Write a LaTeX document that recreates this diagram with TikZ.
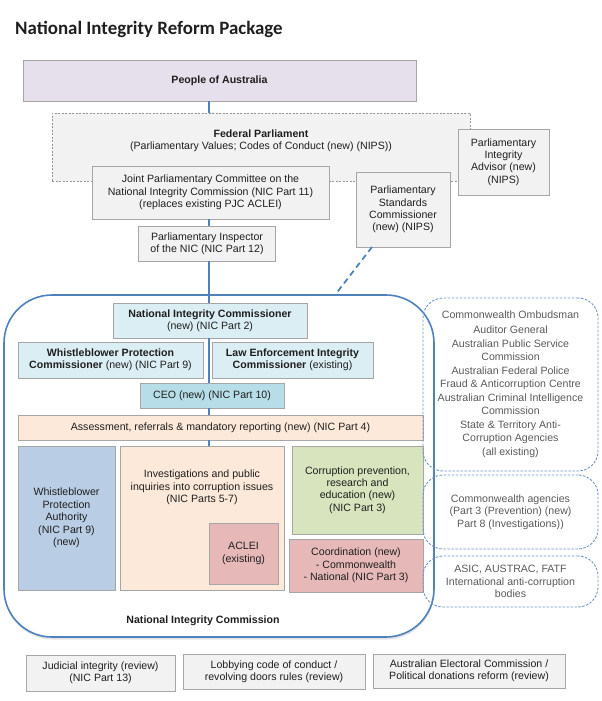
\documentclass[tikz,border=0pt]{standalone}
\usepackage{fontspec}
\setmainfont{Liberation Sans}
\newfontfamily\titlefont{Carlito}
\usetikzlibrary{shadows}

\definecolor{boxline}{HTML}{A6A6A6}
\definecolor{linkblue}{HTML}{4F81BD}
\definecolor{dashblue}{HTML}{6A94C8}
\definecolor{greyfill}{HTML}{F2F2F2}
\definecolor{lavender}{HTML}{E5E0EC}
\definecolor{paleblue}{HTML}{DBEEF4}
\definecolor{ceoblue}{HTML}{B7DEE8}
\definecolor{midblue}{HTML}{B9CDE5}
\definecolor{peach}{HTML}{FDE9D9}
\definecolor{rose}{HTML}{E6B9B8}
\definecolor{sage}{HTML}{D7E4BD}
\definecolor{textdark}{HTML}{1F1F1F}
\definecolor{textgrey}{HTML}{595959}

\newcommand\diagfont{\fontsize{10.6}{12.4}\selectfont}

\begin{document}
\begin{tikzpicture}[x=1pt, y=-1pt,
    box/.style={draw=boxline, line width=1pt, inner sep=0pt, outer sep=0pt,
                align=center, font=\diagfont, text=textdark},
    greybox/.style={box, fill=greyfill},
    peoplebox/.style={box, fill=lavender},
    nicbox/.style={box, fill=paleblue},
    ceobox/.style={box, fill=ceoblue},
    wpabox/.style={box, fill=midblue},
    peachbox/.style={box, fill=peach},
    rosebox/.style={box, fill=rose},
    sagebox/.style={box, fill=sage},
    outerbox/.style={draw=dashblue, line width=0.9pt, dash pattern=on 2.5pt off 1.5pt,
                rounded corners=20pt, inner sep=0pt, align=center, font=\diagfont, text=textgrey},
    txt/.style={inner sep=0pt, align=center, font=\diagfont, text=textdark},
    link/.style={draw=linkblue, line width=1.6pt},
    dashlink/.style={draw=linkblue, line width=1.8pt, dash pattern=on 6pt off 4pt}
  ]
  \useasboundingbox (0,0) rectangle (602,701);

  \node[anchor=base west, inner sep=0pt, text=textdark,
        font=\titlefont\bfseries\fontsize{18.9}{22}\selectfont] (title) at (15,35)
        {National Integrity Reform Package};

  % parliament
  \node[peoplebox, minimum width=393, minimum height=40] (people) at (219.5,81)
        {\textbf{People of Australia}};
  \node[greybox, draw=boxline!90!black, line width=0.7pt, dash pattern=on 2pt off 1.5pt,
        minimum width=418, minimum height=68] (fed) at (261,147) {};
  \node[txt] (fedtext) at (261,140.5)
        {\textbf{Federal Parliament}\\(Parliamentary Values; Codes of Conduct (new) (NIPS))};
  \node[greybox, minimum width=91, minimum height=66] (advisor) at (503.5,162)
        {Parliamentary\\Integrity\\Advisor (new)\\(NIPS)};
  \node[greybox, minimum width=237, minimum height=53] (joint) at (210.5,192.5)
        {Joint Parliamentary Committee on the\\National Integrity Commission (NIC Part 11)\\(replaces existing PJC ACLEI)};
  \node[greybox, minimum width=94, minimum height=75] (stand) at (403,209.5)
        {Parliamentary\\Standards\\Commissioner\\(new) (NIPS)};
  \node[greybox, minimum width=137, minimum height=35] (insp) at (207,243.5)
        {Parliamentary Inspector\\of the NIC (NIC Part 12)};

  % national integrity commission
  \node[draw=linkblue, line width=1.6pt, fill=white, rounded corners=48pt,
        minimum width=430, minimum height=342, inner sep=0pt,
        drop shadow={opacity=0.22, shadow xshift=0.5pt, shadow yshift=-2.5pt}] (nic) at (219,466) {};
  \node[txt] (nictext) at (203,620.5) {\textbf{National Integrity Commission}};

  \node[nicbox, minimum width=194, minimum height=35] (nicc) at (210,320.5)
        {\textbf{National Integrity Commissioner}\\(new) (NIC Part 2)};
  \node[nicbox, minimum width=185, minimum height=36] (wbc) at (110.5,360)
        {\textbf{Whistleblower Protection}\\\textbf{Commissioner} (new) (NIC Part 9)};
  \node[nicbox, minimum width=161, minimum height=36] (leic) at (292.5,360)
        {\textbf{Law Enforcement Integrity}\\\textbf{Commissioner} (existing)};
  \node[ceobox, minimum width=144, minimum height=25] (ceo) at (212,395.5)
        {CEO (new) (NIC Part 10)};
  \node[peachbox, minimum width=405, minimum height=25] (assess) at (220.5,427.5)
        {Assessment, referrals \& mandatory reporting (new) (NIC Part 4)};
  \node[wpabox, minimum width=97, minimum height=144] (wpa) at (66.5,518)
        {Whistleblower\\Protection\\Authority\\(NIC Part 9)\\(new)};
  \node[peachbox, minimum width=164, minimum height=144] (invest) at (202,518) {};
  \node[txt] (investtext) at (202,487.5)
        {Investigations and public\\inquiries into corruption issues\\(NIC Parts 5-7)};
  \node[rosebox, minimum width=69, minimum height=61] (aclei) at (243.5,553.5)
        {ACLEI\\(existing)};
  \node[sagebox, minimum width=131, minimum height=88] (prev) at (357.5,490)
        {Corruption prevention,\\research and\\education (new)\\(NIC Part 3)};
  \node[rosebox, minimum width=134, minimum height=53] (coord) at (356,565.5)
        {Coordination (new)\\- Commonwealth\\- National (NIC Part 3)};

  % partner agencies
  \node[outerbox, minimum width=175, minimum height=173] (agencies) at (510.5,384.5)
        {Commonwealth Ombudsman\\[2.2pt]Auditor General\\[2.2pt]Australian Public Service\\Commission\\[2.2pt]%
         Australian Federal Police\\Fraud \& Anticorruption Centre\\[2.2pt]Australian Criminal Intelligence\\Commission\\[2.2pt]%
         State \& Territory Anti-\\Corruption Agencies\\[2.2pt](all existing)};
  \node[outerbox, minimum width=175, minimum height=74] (cwagency) at (510.5,512)
        {Commonwealth agencies\\(Part 3 (Prevention) (new)\\Part 8 (Investigations))};
  \node[outerbox, minimum width=175, minimum height=51] (asic) at (510.5,581.5)
        {ASIC, AUSTRAC, FATF\\International anti-corruption\\bodies};

  % reviews
  \node[greybox, minimum width=149, minimum height=36] (judicial) at (100.5,673)
        {Judicial integrity (review)\\(NIC Part 13)};
  \node[greybox, minimum width=182, minimum height=35] (lobby) at (274,671.5)
        {Lobbying code of conduct /\\revolving doors rules (review)};
  \node[greybox, minimum width=192, minimum height=34] (aec) at (469,671)
        {Australian Electoral Commission /\\Political donations reform (review)};

  % connectors
  \coordinate (spine) at (209,0);
  \coordinate (nicjoin) at (335,295);
  \draw[link] (people.south -| spine) -- (fed.north -| spine);
  \draw[link] (joint.south -| spine) -- (insp.north -| spine);
  \draw[link] (insp.south -| spine) -- (nicc.north -| spine);
  \draw[link] (nicc.south -| spine) -- (ceo.north -| spine);
  \draw[link] (ceo.south -| spine) -- (assess.north -| spine);
  \draw[link] (assess.south -| spine) -- (invest.north -| spine);
  \draw[dashlink] ([xshift=-31pt]stand.south) -- (nicjoin);
\end{tikzpicture}
\end{document}
